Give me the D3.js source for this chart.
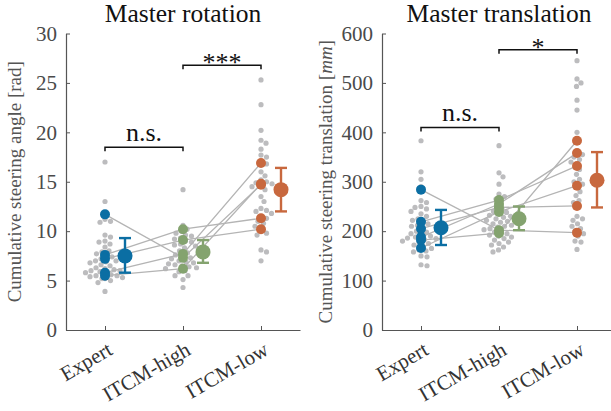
<!DOCTYPE html>
<html>
<head>
<meta charset="utf-8">
<script src="https://cdn.jsdelivr.net/npm/d3@7"></script>
<style>
  body { margin: 0; background: #fff; }
  text { font-family: "Liberation Serif", serif !important; }
</style>
</head>
<body>
<script>
// groups on the x axis
var groups = ["Expert", "ITCM-high", "ITCM-low"];
var colors = ["#0b6ea3", "#84a36f", "#c8683e"];

// ---- Master rotation (rad) ----
var rotGray = [
  [17.0, 13.0, 11.2, 11.0, 10.9, 9.6, 9.4, 9.0, 8.9, 8.7, 8.4, 8.0, 7.9, 7.7, 7.5, 7.4, 7.2, 7.0, 7.0,
   6.9, 6.8, 6.6, 6.5, 6.3, 6.2, 6.1, 6.0, 6.0, 5.9, 5.9, 5.8, 5.7, 5.6, 5.5, 5.5, 5.4, 5.3, 5.2, 5.2, 5.0, 4.8, 3.9],
  [14.2, 10.6, 10.2, 10.0, 9.8, 9.6, 9.5, 9.3, 9.2, 9.0, 8.9, 8.7, 8.6, 8.5, 8.3, 8.0, 7.8, 7.6, 7.4, 7.3,
   7.2, 7.0, 6.9, 6.8, 6.7, 6.6, 6.5, 6.4, 6.3, 6.2, 6.0, 5.9, 5.5, 5.5, 5.1, 4.3],
  [25.3, 22.8, 20.2, 19.2, 18.9, 18.3, 17.7, 17.5, 17.0, 16.8, 16.0, 15.6, 15.2, 15.0, 14.9, 14.8, 14.6, 14.5,
   14.2, 13.5, 13.0, 12.3, 12.1, 12.0, 11.8, 11.5, 11.3, 11.0, 10.8, 10.5, 10.0, 9.8, 9.6, 8.1, 7.9, 7.0]
];
// highlighted subjects: [Expert, ITCM-high, ITCM-low]
var rotSubjects = [
  [11.7, 7.3, 14.7],
  [7.6, 10.2, 11.3],
  [7.2, 9.1, 10.2],
  [5.8, 7.7, 16.9],
  [5.5, 6.2, 14.8]
];
var rotMean = [7.5, 7.9, 14.2];
var rotLow = [5.8, 6.8, 12.0];
var rotHigh = [9.3, 9.1, 16.4];
var rotTicks = [0, 5, 10, 15, 20, 25, 30];
var rotSig = [{a: 0, b: 1, y: 18.5, label: "n.s."}, {a: 1, b: 2, y: 26.8, label: "***"}];

// ---- Master translation (mm) ----
var traGray = [
  [383, 320, 305, 290, 262, 258, 250, 248, 245, 240, 235, 230, 225, 222, 218, 215, 212, 210, 205, 200,
   198, 195, 192, 190, 188, 186, 185, 183, 180, 178, 175, 172, 170, 165, 162, 160, 158, 150, 148, 132, 130],
  [373, 318, 310, 295, 275, 270, 265, 258, 250, 245, 240, 238, 235, 232, 230, 228, 225, 222, 220, 218,
   215, 212, 210, 208, 205, 203, 200, 198, 195, 192, 190, 188, 185, 182, 178, 175, 172, 168, 162, 158],
  [545, 508, 500, 493, 465, 445, 400, 383, 360, 355, 350, 345, 340, 335, 325, 315, 305, 300, 295, 290,
   280, 272, 262, 258, 230, 225, 222, 215, 210, 205, 200, 195, 190, 180, 178, 163]
];
var traSubjects = [
  [284, 202, 197],
  [219, 263, 332],
  [188, 255, 358],
  [166, 239, 292],
  [182, 196, 383],
  [205, 248, 251]
];
var traMean = [207, 225, 303];
var traLow = [172, 202, 248];
var traHigh = [243, 250, 360];
var traTicks = [0, 100, 200, 300, 400, 500, 600];
var traSig = [{a: 0, b: 1, y: 410, label: "n.s."}, {a: 1, b: 2, y: 567, label: "*"}];

var fontName = "Liberation Serif";

var svg = d3.select("body").append("svg")
    .attr("width", 611)
    .attr("height", 411);

function beeswarm(values, x0, y, r) {
    // place each point at the closest free horizontal slot
    var placed = [];
    var sorted = values.slice().sort(function(a, b) { return b - a; });
    sorted.forEach(function(v) {
        var py = y(v), best = 0;
        var cands = [0];
        for (var k = 1; k < 40; k++) { cands.push(k * 0.5); cands.push(-k * 0.5); }
        for (var i = 0; i < cands.length; i++) {
            var ok = placed.every(function(p) {
                var dx = p.x - (x0 + cands[i]), dy = p.y - py;
                return dx * dx + dy * dy >= (2 * r) * (2 * r);
            });
            if (ok) { best = cands[i]; break; }
        }
        placed.push({x: x0 + best, y: py});
    });
    return placed;
}

function drawPanel(cfg) {
    var g = svg.append("g");
    var x = d3.scaleLinear().domain([0.5, 3.5]).range([cfg.left, cfg.left + 234]);
    var y = d3.scaleLinear().domain(cfg.domain).range([330, 33.5]);

    // axes
    var yAxis = d3.axisLeft(y).tickValues(cfg.ticks).tickSizeInner(-4).tickSizeOuter(0).tickPadding(9);
    var xAxis = d3.axisBottom(x).tickValues([1, 2, 3]).tickSizeInner(-4).tickSizeOuter(0).tickFormat("");

    var ga = g.append("g").attr("transform", "translate(" + cfg.left + ",0)").call(yAxis)
        .attr("font-family", null);
    ga.selectAll("text").attr("fill", "#4a4a4a").style("font-family", fontName).style("font-size", "21px");
    var gx = g.append("g").attr("transform", "translate(0,330)").call(xAxis).attr("font-family", null);
    g.selectAll(".domain, .tick line").attr("stroke", "#555");
    ga.select(".domain").attr("stroke-width", 1.2);
    gx.select(".domain").attr("stroke-width", 1.2);

    // rotated group labels
    groups.forEach(function(name, i) {
        g.append("text")
            .attr("transform", "translate(" + (x(i + 1) + 1) + ",340) rotate(-30)")
            .attr("text-anchor", "end")
            .attr("dy", "0.75em")
            .attr("fill", "#333")
            .style("font-family", fontName)
            .style("font-size", "21px")
            .text(name);
    });

    // title
    g.append("text")
        .attr("x", cfg.left + 117)
        .attr("y", 22)
        .attr("text-anchor", "middle")
        .style("font-family", fontName)
        .style("font-size", "25.5px")
        .attr("fill", "#111")
        .text(cfg.title);

    // y label
    var yl = g.append("text")
        .attr("transform", "translate(" + cfg.labelX + "," + y((cfg.domain[0] + cfg.domain[1]) / 2) + ") rotate(-90)")
        .attr("text-anchor", "middle")
        .attr("fill", "#555")
        .style("font-family", fontName)
        .style("font-size", "19px");
    yl.append("tspan").text(cfg.ylabel);
    yl.append("tspan").text(" [");
    yl.append("tspan").style("font-style", cfg.unitItalic ? "italic" : "normal").text(cfg.unit);
    yl.append("tspan").text("]");

    // gray swarm
    cfg.gray.forEach(function(vals, i) {
        var pts = beeswarm(vals, x(i + 1), y, 2.8);
        g.append("g").selectAll("circle")
            .data(pts).enter().append("circle")
            .attr("cx", function(d) { return d.x; })
            .attr("cy", function(d) { return d.y; })
            .attr("r", 2.6)
            .attr("fill", "#bcbcbe");
    });

    // subject lines
    var line = d3.line()
        .x(function(d, i) { return x(i + 1); })
        .y(function(d) { return y(d); });
    g.append("g").selectAll("path")
        .data(cfg.subjects).enter().append("path")
        .attr("d", line)
        .attr("fill", "none")
        .attr("stroke", "#b4b4b4")
        .attr("stroke-width", 1.3);

    // colored subject points
    cfg.subjects.forEach(function(s) {
        s.forEach(function(v, i) {
            g.append("circle")
                .attr("cx", x(i + 1))
                .attr("cy", y(v))
                .attr("r", 5)
                .attr("fill", colors[i]);
        });
    });

    // mean and error bars
    groups.forEach(function(name, i) {
        var cx = x(i + 1) + 20;
        var eb = g.append("g").attr("stroke", colors[i]).attr("stroke-width", 2.4);
        eb.append("line").attr("x1", cx).attr("x2", cx).attr("y1", y(cfg.low[i])).attr("y2", y(cfg.high[i]));
        eb.append("line").attr("x1", cx - 6).attr("x2", cx + 6).attr("y1", y(cfg.low[i])).attr("y2", y(cfg.low[i]));
        eb.append("line").attr("x1", cx - 6).attr("x2", cx + 6).attr("y1", y(cfg.high[i])).attr("y2", y(cfg.high[i]));
        g.append("circle")
            .attr("cx", cx)
            .attr("cy", y(cfg.mean[i]))
            .attr("r", 7.5)
            .attr("fill", colors[i]);
    });

    // significance brackets
    cfg.sig.forEach(function(s) {
        var x1 = x(s.a + 1), x2 = x(s.b + 1), yy = y(s.y);
        g.append("path")
            .attr("d", "M" + x1 + "," + (yy + 4) + "V" + yy + "H" + x2 + "V" + (yy + 4))
            .attr("fill", "none")
            .attr("stroke", "#111")
            .attr("stroke-width", 1.5);
        g.append("text")
            .attr("x", (x1 + x2) / 2)
            .attr("y", yy - (s.label == "n.s." ? 6 : -6))
            .attr("text-anchor", "middle")
            .style("font-family", fontName)
            .style("font-size", "26px")
            .attr("fill", "#111")
            .text(s.label);
    });
}

drawPanel({
    left: 66, domain: [0, 30], ticks: rotTicks, title: "Master rotation",
    ylabel: "Cumulative steering angle", unit: "rad", unitItalic: false, labelX: 21,
    gray: rotGray, subjects: rotSubjects, mean: rotMean, low: rotLow, high: rotHigh, sig: rotSig
});
drawPanel({
    left: 382, domain: [0, 600], ticks: traTicks, title: "Master translation",
    ylabel: "Cumulative steering translation", unit: "mm", unitItalic: true, labelX: 332,
    gray: traGray, subjects: traSubjects, mean: traMean, low: traLow, high: traHigh, sig: traSig
});
</script>
</body>
</html>
